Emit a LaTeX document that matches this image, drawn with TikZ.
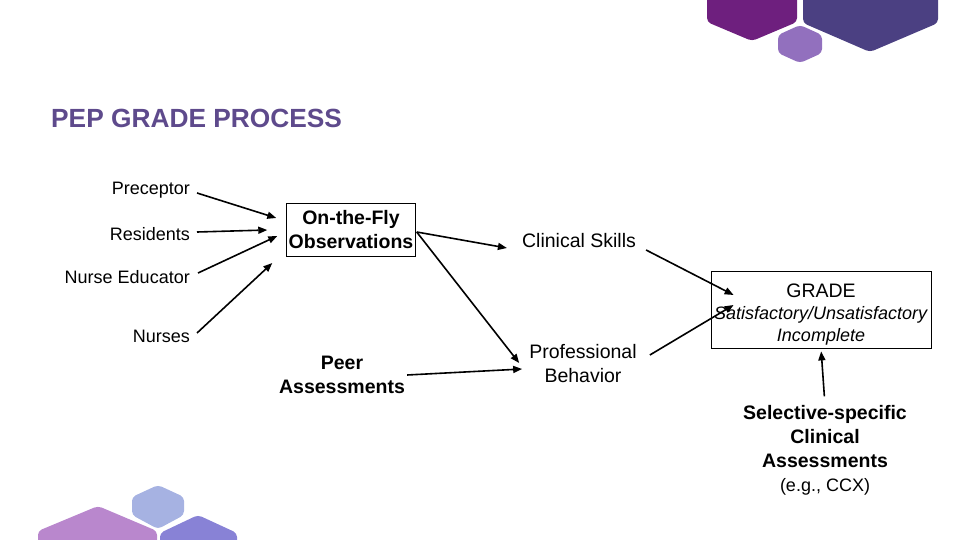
\documentclass[tikz,border=0pt]{standalone}
\usepackage{fontspec}
\setmainfont{Liberation Sans}
\usepackage{tikz}
\usetikzlibrary{arrows.meta}
\definecolor{titlepurple}{RGB}{94,74,140}
\definecolor{hexmagenta}{RGB}{110,31,126}
\definecolor{hexindigo}{RGB}{75,64,130}
\definecolor{hexlavender}{RGB}{146,112,190}
\definecolor{hexpink}{RGB}{185,135,205}
\definecolor{hexsky}{RGB}{166,178,226}
\definecolor{hexblue}{RGB}{136,130,214}

\begin{document}
\begin{tikzpicture}
[x=1pt, y=-1pt,
src/.style={anchor=east, inner sep=0pt, font=\fontsize{18}{22}\selectfont},
txt/.style={align=center, inner sep=0pt, font=\fontsize{19.5}{24}\selectfont},
boldtxt/.style={txt, font=\fontsize{19.5}{24}\selectfont\bfseries},
box/.style={draw=black, line width=0.8pt, align=center},
arrow/.style={line width=1.6pt, -{Triangle[length=9pt,width=7pt]}},
hex/.style={rounded corners=4pt},]

\useasboundingbox (0,0) rectangle (960,540);
\begin{scope}
\clip (0,0) rectangle (960,540);
\fill[hexmagenta, hex] (707,-20) -- (707,22) -- (752,41) -- (797,22) -- (797,-20) -- cycle;
\fill[hexindigo, hex] (803,-20) -- (803,23) -- (870,52) -- (938,23) -- (938,-20) -- cycle;
\fill[hexlavender, hex] (800,25) -- (822,35) -- (822,53) -- (800,63) -- (778,53) -- (778,35) -- cycle;
\fill[hexpink, hex] (38,560) -- (38,531) -- (98,506) -- (157,531) -- (157,560) -- cycle;
\fill[hexsky, hex] (158,485) -- (184,497) -- (184,515) -- (158,529) -- (132,515) -- (132,497) -- cycle;
\fill[hexblue, hex] (160,560) -- (160,533) -- (198,515) -- (237,533) -- (237,560) -- cycle;
\end{scope}

\node[anchor=west, inner sep=0pt, text=titlepurple, font=\fontsize{26.3}{31}\selectfont\bfseries] (title) at (51,118) {PEP GRADE PROCESS};

\node[src] (prec) at (190,190) {Preceptor};
\node[src] (res) at (190,234) {Residents};
\node[src] (nedu) at (190,277) {Nurse Educator};
\node[src] (nurses) at (190,336) {Nurses};

\node[boldtxt, box, minimum width=128pt, minimum height=53pt, inner sep=2pt] (obs) at (351,229.5) {On-the-Fly\\ Observations};
\node[boldtxt] (peer) at (342,375) {Peer\\ Assessments};
\node[txt] (clin) at (579,241) {Clinical Skills};
\node[txt] (prof) at (583,364) {Professional\\ Behavior};

\node[box, minimum width=220pt, minimum height=77pt, inner sep=0pt, font=\fontsize{18}{22}\selectfont] (grade) at (821,309.5) {\rule{0pt}{23pt}{\fontsize{19.5}{23}\selectfont GRADE}\\ \textit{Satisfactory/Unsatisfactory}\\ \textit{Incomplete}};
\node[boldtxt] (sel) at (825,450.5) {Selective-specific\\ Clinical\\ Assessments\\ \mdseries\fontsize{18}{23}\selectfont (e.g., CCX)};

\draw[arrow] ([shift={(7,3)}]prec.east) -- ([shift={(-10,-11.5)}]obs.west);
\draw[arrow] ([shift={(7,-2)}]res.east) -- ([shift={(-19,0.5)}]obs.west);
\draw[arrow] ([shift={(8,-4)}]nedu.east) -- ([shift={(-9,6.5)}]obs.west);
\draw[arrow] ([shift={(7,-3)}]nurses.east) -- ([shift={(-14,33.5)}]obs.west);

\draw[arrow] ([shift={(1,2.5)}]obs.east) -- ([shift={(-15,7)}]clin.west);
\draw[arrow] ([shift={(1,2.5)}]obs.east) -- ([shift={(-10,-1)}]prof.west);
\draw[arrow] ([shift={(2,0)}]peer.east) -- ([shift={(-7,5)}]prof.west);

\draw[arrow] ([shift={(10,9)}]clin.east) -- ([shift={(23,-14.5)}]grade.west);
\draw[arrow] ([shift={(13,-9)}]prof.east) -- ([shift={(23,-4.5)}]grade.west);
\draw[arrow, shorten <=9pt, shorten >=3pt] (sel.north) -- (grade.south);

\end{tikzpicture}
\end{document}
